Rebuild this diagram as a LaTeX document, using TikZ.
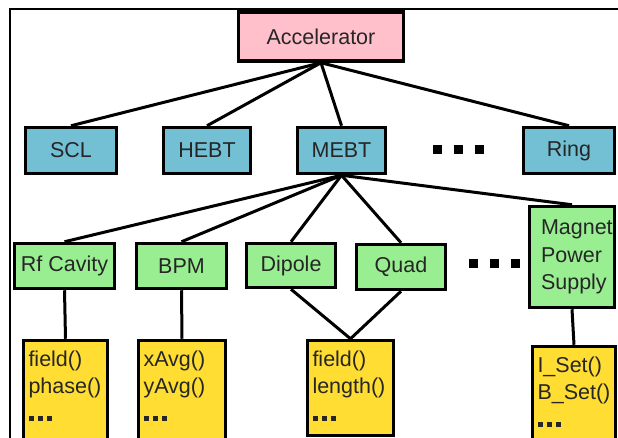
\documentclass[tikz,border=0pt]{standalone}
\usepackage{fontspec}
\setmainfont{Liberation Sans}
\definecolor{accpink}{RGB}{255,192,203}
\definecolor{seqblue}{RGB}{115,192,212}
\definecolor{nodegreen}{RGB}{152,238,144}
\definecolor{methyellow}{RGB}{255,221,51}
% three small squares standing for "and so on" inside a method list
\newcommand\tridots{\rule{5pt}{5pt}\hspace{4pt}\rule{5pt}{5pt}\hspace{4pt}\rule{5pt}{5pt}}
\tikzset{
  box/.style={draw=black, line width=3.5pt, rectangle, inner sep=0pt,
    font=\fontsize{21.5}{27.5}\selectfont, text=black!85},
  accbox/.style={box, fill=accpink},
  seqbox/.style={box, fill=seqblue},
  elembox/.style={box, fill=nodegreen},
  methbox/.style={box, fill=methyellow, inner xsep=5pt, inner ysep=10pt},
  link/.style={draw=black, line width=3pt},
  frameline/.style={draw=black, line width=1.5pt},
}
\begin{document}
\begin{tikzpicture}[x=1pt,y=-1pt]
\useasboundingbox (0,0) rectangle (618,438);
\clip (0,0) rectangle (618,438);
\fill[white] (0,0) rectangle (618,438);

% surrounding frame
\draw[frameline] (10,440) -- (10,9) -- (620,9);

% root
\node[accbox, minimum width=165pt, minimum height=49pt] (acc) at (321,36.5) {Accelerator};

% sequences
\node[seqbox, minimum width=91pt, minimum height=46pt] (scl)  at (71,150.5)  {SCL};
\node[seqbox, minimum width=87pt, minimum height=46pt] (hebt) at (207,150.5) {HEBT};
\node[seqbox, minimum width=88pt, minimum height=46pt] (mebt) at (341.5,150.5) {MEBT};
\node[seqbox, minimum width=91pt, minimum height=46pt] (ring) at (569,150.5) {Ring};
\foreach \dx in {437,458,479} \fill (\dx-4.5,145.5) rectangle ++(9,9);

% elements of MEBT
\node[elembox, minimum width=100pt, minimum height=45pt] (rf)     at (64.5,266)  {Rf Cavity};
\node[elembox, minimum width=90pt,  minimum height=45pt] (bpm)    at (181.5,266) {BPM};
\node[elembox, minimum width=89pt,  minimum height=44pt] (dipole) at (291,265.5) {Dipole};
\node[elembox, minimum width=89pt,  minimum height=45pt] (quad)   at (401,267)   {Quad};
\node[elembox, minimum width=85pt,  minimum height=101pt, text width=62pt, align=left] (mps) at (572,257) {Magnet\\Power\\Supply};
\foreach \dx in {473,494,515} \fill (\dx-4.5,259.5) rectangle ++(9,9);

% method lists
\node[methbox, anchor=north] (rfm)  at (65.5,338.75)
  {\parbox[t][100pt][t]{74pt}{field()\\phase()\\\tridots}};
\node[methbox, anchor=north] (bpmm) at (182,338.75)
  {\parbox[t][100pt][t]{77pt}{xAvg()\\yAvg()\\\tridots}};
\node[methbox, anchor=north] (magm) at (350.5,338.75)
  {\parbox[t][75pt][t]{76pt}{field()\\length()\\\tridots}};
\node[methbox, anchor=north] (mpsm) at (574,344.75)
  {\parbox[t][100pt][t]{73pt}{I\_Set()\\B\_Set()\\\tridots}};

% hierarchy links
\foreach \c in {scl,hebt,mebt,ring} \draw[link] (acc.south) -- (\c.north);
\foreach \c in {rf,bpm,dipole,quad,mps} \draw[link] (mebt.south) -- (\c.north);
\draw[link] (rf.south) -- (rfm.north);
\draw[link] (bpm.south) -- (bpmm.north);
\draw[link] (dipole.south) -- (magm.north);
\draw[link] (quad.south) -- (magm.north);
\draw[link] (mps.south) -- (mpsm.north);
\end{tikzpicture}
\end{document}
